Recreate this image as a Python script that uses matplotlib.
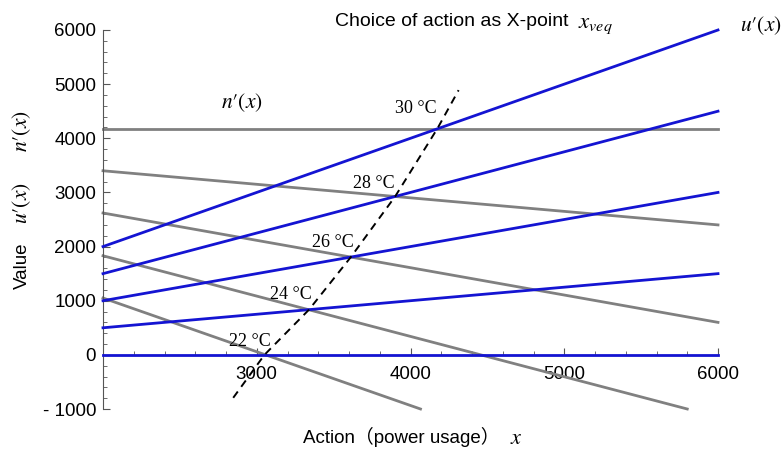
import matplotlib.pyplot as plt
from matplotlib.ticker import MultipleLocator, FixedLocator

plt.rcParams['font.family'] = ['Liberation Sans', 'Noto Sans CJK SC', 'DejaVu Sans']
plt.rcParams['mathtext.fontset'] = 'stix'

# u'(x) lines (blue), value at x=2000 and x=6000
temps = ['30', '28', '26', '24', '22']
u_x = [2000, 6000]
u_start = [2000, 1500, 1000, 500, 0]
u_end = [6000, 4500, 3000, 1500, 0]

# n'(x) lines (gray)
n_start_x = [2000, 2000, 2000, 2000, 2000]
n_start_y = [4180, 3400, 2620, 1830, 1050]
n_end_x = [6000, 6000, 6000, 5800, 4065]
n_end_y = [4180, 2400, 600, -1000, -1000]

# dashed X-point curve
xp_x = [2847, 3050, 3340, 3612, 3900, 4175, 4313]
xp_y = [-793, 0, 835, 1806, 2925, 4180, 4889]

# temperature label positions
lab_x = [4033, 3759, 3492, 3225, 2958]
lab_y = [4557, 3173, 2066, 1107, 240]

fig = plt.figure(figsize=(7.83, 4.5), dpi=100)
ax = fig.add_axes([103/783, 41/450, 615/783, 379/450])

for a, b in zip(u_start, u_end):
    ax.plot(u_x, [a, b], color='#1414d2', lw=2, zorder=3, clip_on=False)
for x0, y0, x1, y1 in zip(n_start_x, n_start_y, n_end_x, n_end_y):
    ax.plot([x0, x1], [y0, y1], color='#808080', lw=2, zorder=2, clip_on=False)

ax.plot(xp_x, xp_y, color='black', lw=1.4, ls=(0, (4, 3)), zorder=4)

for t, x, y in zip(temps, lab_x, lab_y):
    ax.text(x, y, t + ' °C', fontsize=13, family='Liberation Serif',
            ha='center', va='center')

ax.text(2905, 4650, "$n′(x)$", fontsize=15.5, ha='center', va='center')
ax.text(6280, 6089, "$u′(x)$", fontsize=15.5, ha='center', va='center', clip_on=False)

ax.set_xlim(2000, 6000)
ax.set_ylim(-1000, 6000)

for s in ['top', 'right']:
    ax.spines[s].set_visible(False)
ax.spines['bottom'].set_position(('data', 0))
ax.spines['left'].set_color('#555555')
ax.spines['bottom'].set_color('#555555')

ax.xaxis.set_major_locator(FixedLocator([3000, 4000, 5000, 6000]))
ax.xaxis.set_minor_locator(MultipleLocator(200))
ax.yaxis.set_minor_locator(MultipleLocator(200))
ax.set_yticks([-1000, 0, 1000, 2000, 3000, 4000, 5000, 6000])
ax.set_yticklabels(['- 1000', '0', '1000', '2000', '3000', '4000', '5000', '6000'])
ax.tick_params(which='both', direction='in', color='#555555', labelsize=13.5)
ax.tick_params(which='major', length=5)
ax.tick_params(which='minor', length=3)
ax.tick_params(axis='x', pad=8)
ax.tick_params(axis='y', pad=5)

# title
fig.text(335/783, 1 - 22/450, "Choice of action as X-point",
         fontsize=14, ha='left', va='center')
fig.text(578/783, 1 - 24/450, "$x_{veq}$", fontsize=16.5, ha='left', va='center')

# x label
fig.text(303/783, 1 - 437/450, "Action（power usage）",
         fontsize=13.5, ha='left', va='center')
fig.text(516/783, 1 - 439/450, "$x$", fontsize=16, ha='center', va='center')

# y label
fig.text(22/783, 1 - 266/450, "Value", fontsize=13.5, ha='center', va='center',
         rotation=90)
fig.text(22/783, 1 - 203/450, "$u′(x)$", fontsize=15.5, ha='center', va='center',
         rotation=90)
fig.text(22/783, 1 - 131/450, "$n′(x)$", fontsize=15.5, ha='center', va='center',
         rotation=90)

fig.savefig('out.png', dpi=100)
